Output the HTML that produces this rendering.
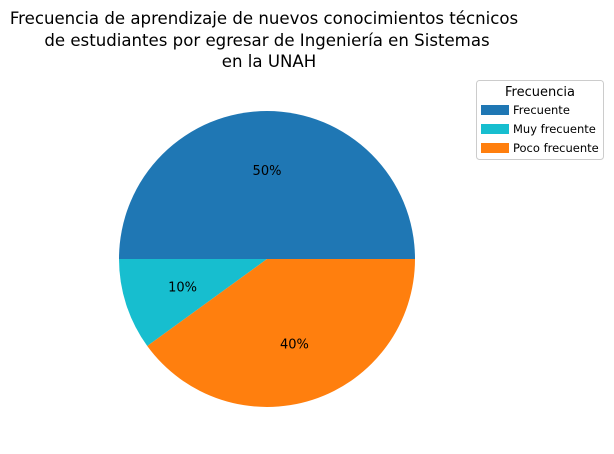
<!DOCTYPE html>
<html><head><meta charset="utf-8"><style>
body{margin:0;background:#fff;}
svg{font-family:"DejaVu Sans","Liberation Sans",sans-serif;display:block}
</style></head><body>
<svg width="614" height="454" viewBox="0 0 614 454">
<g font-size="16.6" text-anchor="middle" fill="#000">
<text x="264" y="24">Frecuencia de aprendizaje de nuevos conocimientos técnicos</text>
<text x="267" y="46">de estudiantes por egresar de Ingeniería en Sistemas</text>
<text x="269" y="67">en la UNAH</text>
</g>
<g id="slices"></g>
<g id="labels" font-size="13" text-anchor="middle" fill="#000"></g>
<g>
<rect x="476.5" y="80.5" width="127" height="79" rx="3" fill="#fff" stroke="#ccc"/>
<text x="540" y="96" font-size="13" text-anchor="middle">Frecuencia</text>
<g id="legend-entries" font-size="11.5"></g>
</g>
</svg>
<script>
const categories=["Frecuente","Muy frecuente","Poco frecuente"];
const values=[50,10,40];
const colors=["#1f77b4","#17becf","#ff7f0e"];
const NS="http://www.w3.org/2000/svg";
const cx=267,cy=259,r=148;
const total=values.reduce((a,b)=>a+b,0);
let a0=0;
const sl=document.getElementById('slices'),lb=document.getElementById('labels'),lg=document.getElementById('legend-entries');
values.forEach((v,i)=>{
  const a1=a0+v/total*2*Math.PI;
  const x0=cx+r*Math.cos(a0),y0=cy-r*Math.sin(a0),x1=cx+r*Math.cos(a1),y1=cy-r*Math.sin(a1);
  const large=(a1-a0)>Math.PI?1:0;
  const p=document.createElementNS(NS,'path');
  p.setAttribute('d',`M${cx},${cy} L${x0},${y0} A${r},${r} 0 ${large} 0 ${x1},${y1} Z`);
  p.setAttribute('fill',colors[i]);
  
  
  sl.appendChild(p);
  const am=(a0+a1)/2;
  const t=document.createElementNS(NS,'text');
  t.setAttribute('x',cx+0.6*r*Math.cos(am));
  t.setAttribute('y',cy-0.6*r*Math.sin(am)+5);
  t.textContent=Math.round(v/total*100)+'%';
  
  
  lb.appendChild(t);
  const y=105+i*19;
  const rc=document.createElementNS(NS,'rect');
  rc.setAttribute('x',481);rc.setAttribute('y',y);rc.setAttribute('width',28);rc.setAttribute('height',10);rc.setAttribute('fill',colors[i]);
  
  
  lg.appendChild(rc);
  const lt=document.createElementNS(NS,'text');
  lt.setAttribute('x',513);lt.setAttribute('y',y+9);lt.textContent=categories[i];
  
  
  lg.appendChild(lt);
  a0=a1;
});
</script>
</body></html>
